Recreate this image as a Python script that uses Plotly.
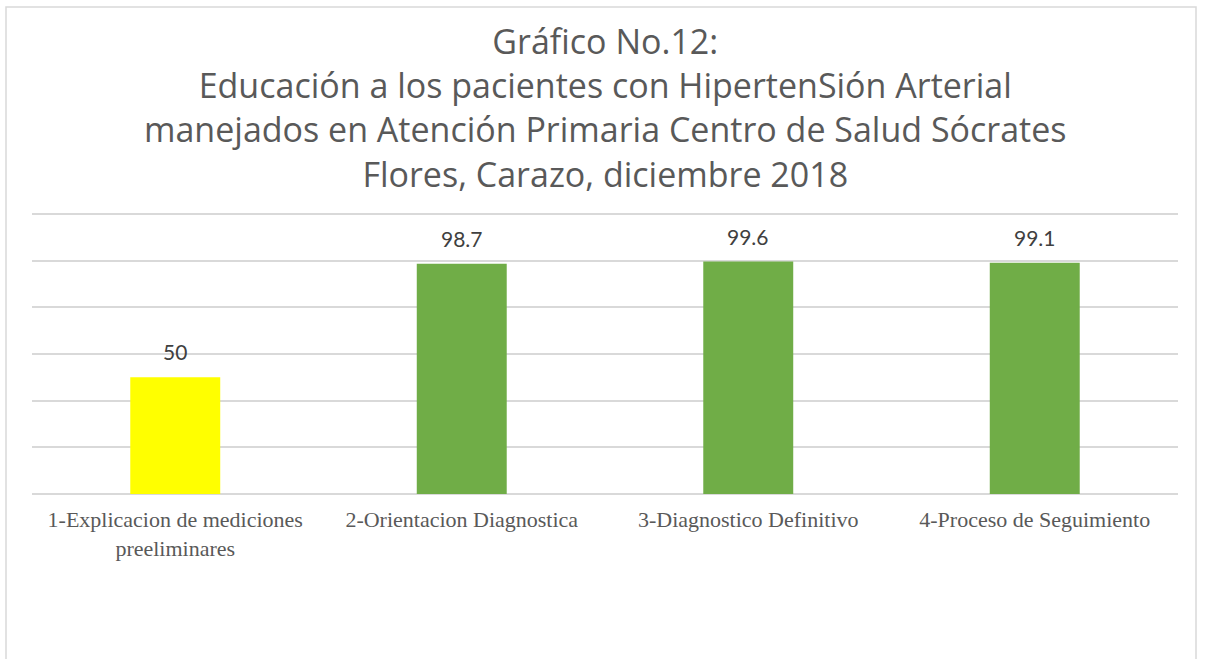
import plotly.graph_objects as go

categories = ["1-Explicacion de mediciones<br>preeliminares", "2-Orientacion Diagnostica",
              "3-Diagnostico Definitivo", "4-Proceso de Seguimiento"]
values = [50, 98.7, 99.6, 99.1]
labels = ["50", "98.7", "99.6", "99.1"]
colors = ["#FFFF00", "#70AD47", "#70AD47", "#70AD47"]

title_text = ("Gráfico No.12:<br>Educación a los pacientes con HipertenSión Arterial<br>"
              "manejados en Atención Primaria Centro de Salud Sócrates<br>Flores, Carazo, diciembre 2018")

W, H = 1206, 659
L, R, T, B = 32, 28, 212, 165
ph = H - T - B
pw = W - L - R
ymax = ph / (280 / 120)

def py(p):
    return (H - B - p) / ph

def px(p):
    return (p - L) / pw

fig = go.Figure()
fig.add_trace(go.Bar(x=categories, y=values, marker=dict(color=colors, line=dict(width=0)),
                     hoverinfo="skip"))

for c, v, t in zip(categories, values, labels):
    fig.add_annotation(x=c, y=v, text=t, showarrow=False, yanchor="bottom", yshift=11,
                       font=dict(family="Lato, Noto Sans", size=21, color="#404040"))

fig.add_annotation(x=0.5, xref="paper", y=py(16), yref="paper", yanchor="top",
                   text=title_text, showarrow=False,
                   font=dict(family="Open Sans", size=34, color="#595959"))

fig.add_shape(type="rect", xref="paper", yref="paper", x0=px(6), x1=px(1196), y0=py(700), y1=py(7),
              line=dict(color="#d9d9d9", width=1.5), fillcolor="rgba(0,0,0,0)", layer="below")

fig.update_layout(
    width=W, height=H,
    margin=dict(l=L, r=R, t=T, b=B),
    paper_bgcolor="white", plot_bgcolor="white",
    bargap=0.686,
    showlegend=False,
    xaxis=dict(showline=False, ticks="", showgrid=False, ticklabelstandoff=10,
               tickfont=dict(family="Liberation Serif, Times New Roman", size=22, color="#595959")),
    yaxis=dict(range=[0, ymax], tickvals=[0, 20, 40, 60, 80, 100, 120], showticklabels=False,
               showgrid=True, gridcolor="#d9d9d9", gridwidth=1.5, zeroline=True,
               zerolinecolor="#d9d9d9", zerolinewidth=1.5, ticks=""),
)

fig.write_html("out.html", config={"displayModeBar": False},
               post_script="document.body.style.margin='0';document.body.style.overflow='hidden';")
